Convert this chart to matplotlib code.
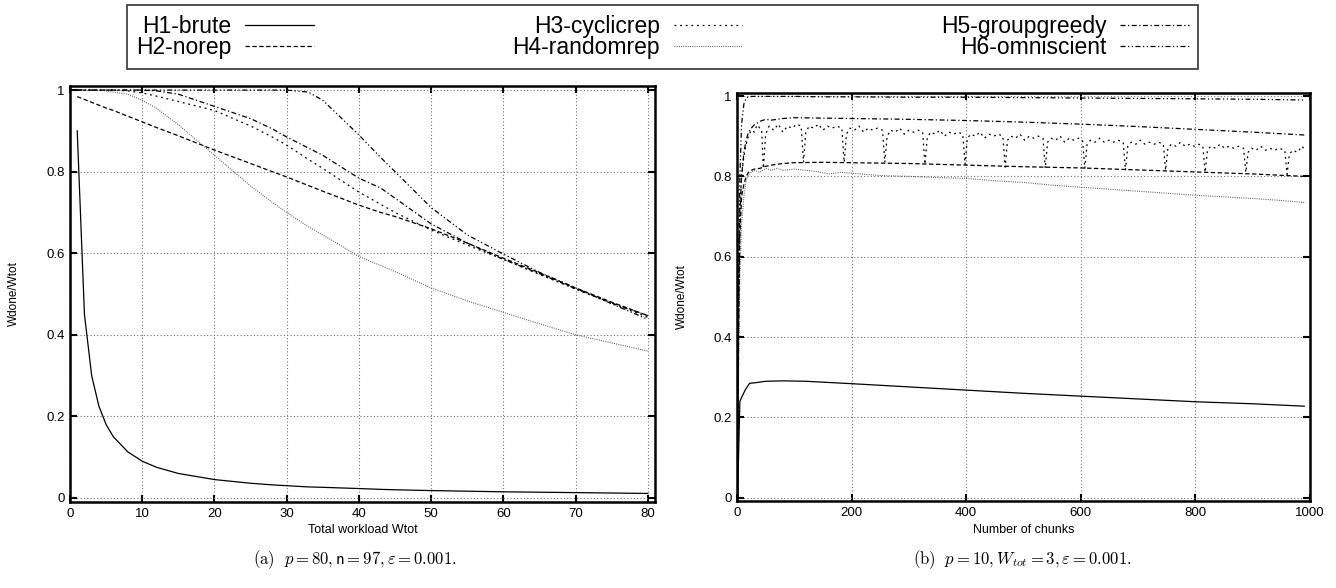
import numpy as np
import matplotlib.pyplot as plt
from matplotlib.lines import Line2D
from matplotlib.ticker import FuncFormatter

plt.rcParams["font.family"] = ["Liberation Sans", "DejaVu Sans"]
plt.rcParams["mathtext.fontset"] = "cm"

names = ["H1-brute", "H2-norep", "H3-cyclicrep",
         "H4-randomrep", "H5-groupgreedy", "H6-omniscient"]

# (a) ratio vs total workload
wtot = [1, 2, 3, 4, 5, 6, 8, 10, 12, 15, 20, 25, 28, 30, 33, 35, 40, 43, 45,
        50, 55, 60, 65, 70, 75, 80]
a_brute = [0.9, 0.45, 0.3, 0.225, 0.18, 0.15, 0.113, 0.09, 0.075, 0.06, 0.045,
           0.036, 0.032, 0.03, 0.027, 0.026, 0.023, 0.021, 0.02, 0.018, 0.0165,
           0.015, 0.014, 0.013, 0.012, 0.011]
a_norep = [0.984, 0.977, 0.97, 0.963, 0.956, 0.95, 0.936, 0.922, 0.908, 0.888,
           0.853, 0.82, 0.80, 0.787, 0.766, 0.752, 0.718, 0.70, 0.69, 0.66,
           0.625, 0.588, 0.552, 0.515, 0.48, 0.447]
a_cyclic = [1.0, 1.0, 1.0, 1.0, 1.0, 1.0, 0.998, 0.993, 0.985, 0.972, 0.95,
            0.912, 0.885, 0.865, 0.83, 0.808, 0.75, 0.72, 0.70, 0.657, 0.62,
            0.585, 0.548, 0.512, 0.477, 0.443]
a_random = [1.0, 1.0, 1.0, 1.0, 0.998, 0.995, 0.99, 0.975, 0.955, 0.915, 0.84,
            0.765, 0.725, 0.70, 0.665, 0.645, 0.592, 0.57, 0.555, 0.515, 0.483,
            0.455, 0.427, 0.40, 0.38, 0.36]
a_group = [1.0, 1.0, 1.0, 1.0, 1.0, 1.0, 1.0, 1.0, 0.998, 0.99, 0.96, 0.93,
           0.905, 0.885, 0.858, 0.84, 0.784, 0.76, 0.735, 0.672, 0.625, 0.585,
           0.55, 0.513, 0.478, 0.447]
a_omni = [1.0, 1.0, 1.0, 1.0, 1.0, 1.0, 1.0, 1.0, 1.0, 1.0, 1.0, 1.0, 1.0,
          1.0, 0.995, 0.975, 0.89, 0.835, 0.80, 0.712, 0.645, 0.598, 0.553,
          0.515, 0.476, 0.438]

# (b) ratio vs number of chunks
b_brute_x = [1, 5, 8, 15, 22, 30, 50, 80, 120, 200, 300, 400, 500, 600, 700,
             800, 900, 990]
b_brute = [0.0, 0.24, 0.25, 0.27, 0.285, 0.286, 0.29, 0.291, 0.29, 0.284,
           0.276, 0.268, 0.26, 0.253, 0.246, 0.239, 0.234, 0.228]

b_x = [1, 3, 5, 8, 12, 16, 20, 25, 30, 40, 50, 60, 80, 100, 150, 200, 300,
       400, 500, 600, 700, 800, 900, 990]
b_norep = [0.0, 0.45, 0.65, 0.75, 0.78, 0.80, 0.81, 0.815, 0.818, 0.82, 0.825,
           0.828, 0.832, 0.834, 0.835, 0.834, 0.832, 0.828, 0.824, 0.821,
           0.816, 0.811, 0.806, 0.80]
b_group = [0.0, 0.5, 0.7, 0.8, 0.86, 0.89, 0.91, 0.92, 0.928, 0.937, 0.942,
           0.94, 0.944, 0.946, 0.945, 0.944, 0.942, 0.939, 0.935, 0.93, 0.924,
           0.917, 0.91, 0.903]
b_omni = [0.0, 0.6, 0.8, 0.93, 0.98, 0.995, 0.998, 0.999, 0.999, 0.999, 0.999,
          0.999, 0.999, 0.999, 0.998, 0.998, 0.997, 0.997, 0.996, 0.995, 0.994,
          0.993, 0.992, 0.99]

b_random_x = [1, 3, 5, 8, 12, 16, 20, 30, 40, 50, 60, 70, 80, 100, 120, 140,
              160, 180, 200, 250, 300, 350, 400, 450, 500, 550, 600, 650, 700,
              750, 800, 850, 900, 950, 990]
b_random = [0.0, 0.35, 0.55, 0.68, 0.75, 0.79, 0.805, 0.815, 0.81, 0.82, 0.815,
            0.82, 0.815, 0.818, 0.815, 0.812, 0.806, 0.81, 0.808, 0.802, 0.80,
            0.797, 0.795, 0.789, 0.785, 0.778, 0.773, 0.768, 0.763, 0.758,
            0.753, 0.749, 0.745, 0.74, 0.735]

b_cyclic_x = [1, 3, 5, 8, 12, 16, 20, 25, 30, 35, 40, 43, 46,
              50, 56, 64, 72, 80, 88, 96, 104, 112, 116,
              120, 126, 134, 142, 150, 158, 166, 174, 183, 187,
              191, 197, 205, 213, 221, 229, 237, 245, 254, 258,
              262, 268, 276, 284, 292, 300, 308, 316, 324, 328,
              332, 338, 346, 354, 362, 370, 378, 386, 394, 398,
              402, 408, 416, 424, 432, 440, 448, 456, 464, 468,
              472, 478, 486, 494, 502, 510, 518, 526, 534, 538,
              542, 548, 556, 564, 572, 580, 588, 596, 603, 607,
              611, 617, 625, 633, 641, 649, 657, 665, 674, 678,
              682, 688, 696, 704, 712, 720, 728, 736, 744, 748,
              752, 758, 766, 774, 782, 790, 798, 806, 813, 817,
              821, 827, 835, 843, 851, 859, 867, 875, 884, 888,
              892, 898, 906, 914, 922, 930, 938, 946, 956, 960,
              964, 970, 978, 986, 992]
b_cyclic = [0.0, 0.55, 0.72, 0.80, 0.85, 0.88, 0.90, 0.915, 0.91, 0.928, 0.92, 0.915, 0.82,
            0.905, 0.925, 0.915, 0.93, 0.91, 0.925, 0.92, 0.93, 0.925, 0.835,
            0.91, 0.925, 0.92, 0.93, 0.915, 0.925, 0.92, 0.925, 0.92, 0.835,
            0.905, 0.92, 0.915, 0.925, 0.91, 0.92, 0.915, 0.92, 0.915, 0.835,
            0.90, 0.915, 0.91, 0.92, 0.905, 0.915, 0.91, 0.915, 0.91, 0.83,
            0.895, 0.91, 0.905, 0.915, 0.90, 0.91, 0.905, 0.91, 0.905, 0.83,
            0.895, 0.905, 0.90, 0.91, 0.895, 0.905, 0.90, 0.905, 0.90, 0.823,
            0.89, 0.90, 0.895, 0.905, 0.89, 0.90, 0.895, 0.90, 0.895, 0.82,
            0.885, 0.895, 0.89, 0.90, 0.885, 0.895, 0.89, 0.895, 0.89, 0.82,
            0.88, 0.89, 0.885, 0.895, 0.885, 0.89, 0.885, 0.89, 0.885, 0.815,
            0.875, 0.885, 0.88, 0.89, 0.88, 0.885, 0.88, 0.885, 0.88, 0.815,
            0.87, 0.88, 0.875, 0.885, 0.875, 0.88, 0.875, 0.88, 0.875, 0.81,
            0.865, 0.875, 0.87, 0.88, 0.87, 0.875, 0.87, 0.875, 0.87, 0.81,
            0.86, 0.87, 0.865, 0.875, 0.865, 0.87, 0.865, 0.87, 0.865, 0.805,
            0.855, 0.865, 0.86, 0.875, 0.865]

styles = {
    "H1-brute": dict(color="black", linestyle="-", lw=0.9),
    "H2-norep": dict(color="black", dashes=(3.5, 2), lw=0.9),
    "H3-cyclicrep": dict(color="black", dashes=(1.5, 3), lw=0.9),
    "H4-randomrep": dict(color="0.3", dashes=(0.8, 1.2), lw=0.8),
    "H5-groupgreedy": dict(color="black", dashes=(4, 2, 1, 2), lw=0.9),
    "H6-omniscient": dict(color="black", dashes=(4, 2, 1, 2, 1, 2), lw=0.9),
}

W, H = 1336, 588
fig = plt.figure(figsize=(W / 100, H / 100), dpi=100)
ax1 = fig.add_axes([70 / W, 1 - 502 / H, 585 / W, 416 / H])
ax2 = fig.add_axes([737 / W, 1 - 501 / H, 573 / W, 408 / H])

series_a = [a_brute, a_norep, a_cyclic, a_random, a_group, a_omni]
for name, ys in zip(names, series_a):
    ax1.plot(wtot, ys, **styles[name])

series_b = [(b_brute_x, b_brute), (b_x, b_norep), (b_cyclic_x, b_cyclic),
            (b_random_x, b_random), (b_x, b_group), (b_x, b_omni)]
for name, (xs, ys) in zip(names, series_b):
    ax2.plot(xs, ys, **styles[name])

ax1.set_xlim(0, 81)
ax1.set_ylim(-0.01, 1.01)
ax1.set_xticks(np.arange(0, 81, 10))
ax2.set_xlim(0, 1000)
ax2.set_ylim(-0.008, 1.0075)
ax2.set_xticks(np.arange(0, 1001, 200))

fmt = FuncFormatter(lambda v, p: "%g" % round(v, 2))
for ax in (ax1, ax2):
    ax.set_yticks(np.arange(0, 1.01, 0.2))
    ax.yaxis.set_major_formatter(fmt)
    ax.grid(True, color="0.45", linestyle=(0, (1, 2)), lw=0.8)
    ax.tick_params(direction="in", length=5, width=1.5, top=True, right=True,
                   labelsize=9.5, pad=4)
    for sp in ax.spines.values():
        sp.set_linewidth(1.8)
    ax.set_ylabel("Wdone/Wtot", fontsize=8.5)
    ax.yaxis.set_label_coords(-0.085, 0.5)

ax1.set_xlabel("Total workload Wtot", fontsize=9)
ax2.set_xlabel("Number of chunks", fontsize=9)
ax1.xaxis.set_label_coords(0.5, -0.052)
ax2.xaxis.set_label_coords(0.5, -0.057)

# sub-figure captions, all in Computer Modern
fig.text(355 / W, 1 - 560 / H,
         r"$\mathrm{(a)}\ \ p = 80, \mathsf{n} = 97, \varepsilon = 0.001.$",
         ha="center", va="center", fontsize=12)
fig.text(1022 / W, 1 - 560 / H,
         r"$\mathrm{(b)}\ \ p = 10, W_{tot} = 3, \varepsilon = 0.001.$",
         ha="center", va="center", fontsize=12)

handles = [Line2D([], [], **styles[n]) for n in names]
leg = fig.legend(handles, names, ncol=3, mode="expand", loc="center",
                 bbox_to_anchor=(127 / W, 1 - 72 / H, 1071 / W, 70 / H),
                 markerfirst=False, fancybox=False, edgecolor="black",
                 fontsize=16.5, handlelength=3.0, handletextpad=0.6,
                 borderaxespad=0, borderpad=0.4, labelspacing=-0.05)
leg.get_frame().set_linewidth(1.2)

fig.savefig("out.png", dpi=100)
